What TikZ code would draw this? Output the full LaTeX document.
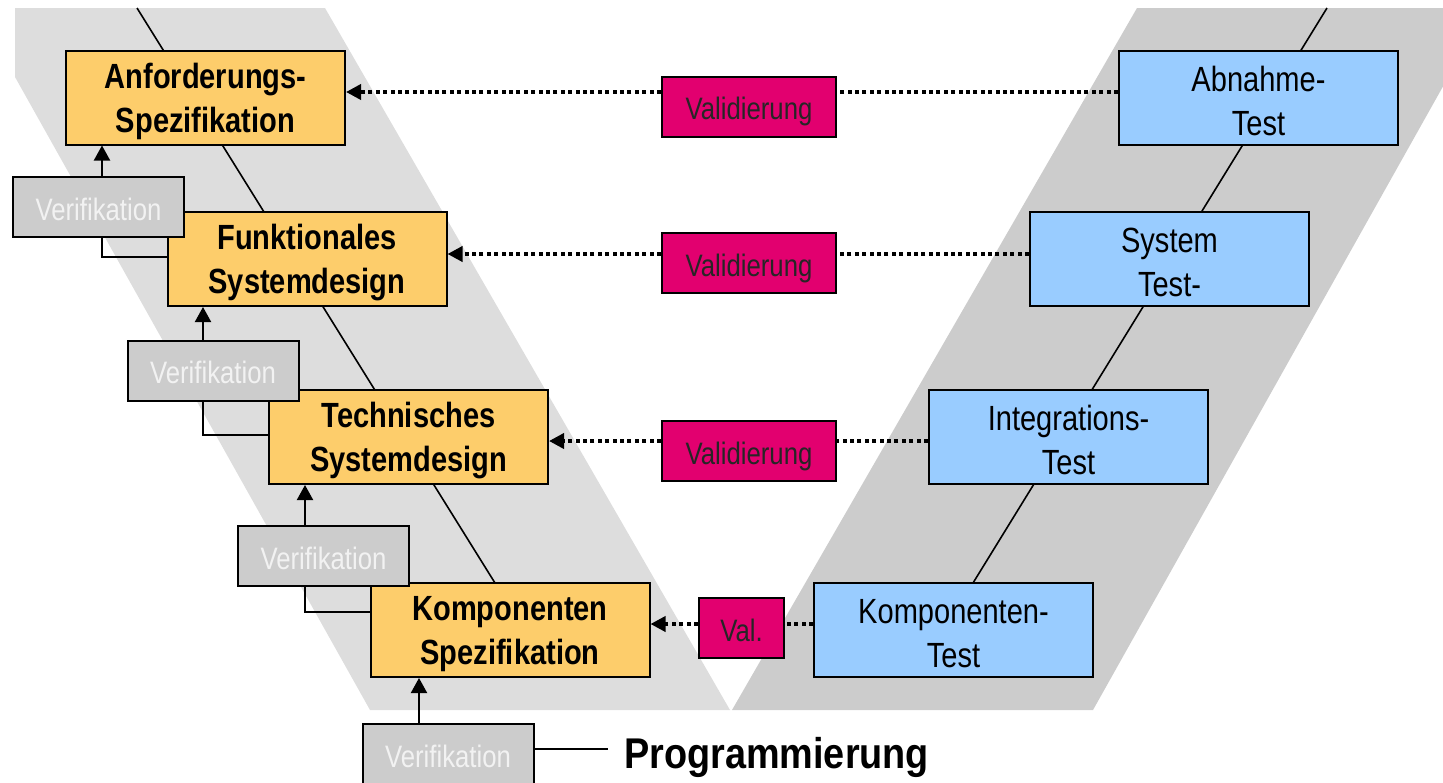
\documentclass[tikz,border=0pt]{standalone}
\usepackage{fontspec}
\setmainfont{Liberation Sans}[FakeStretch=0.83]
\newfontfamily\progfont{Liberation Sans}[FakeStretch=0.88]
\usetikzlibrary{arrows.meta}
\definecolor{bandlight}{HTML}{DDDDDD}
\definecolor{banddark}{HTML}{CCCCCC}
\definecolor{specfill}{HTML}{FDCD6B}
\definecolor{testfill}{HTML}{99CCFF}
\definecolor{verfill}{HTML}{CCCCCC}
\definecolor{vertext}{HTML}{F2F2F2}
\definecolor{valfill}{HTML}{E2006F}
\tikzset{
  specbox/.style={draw, line width=2pt, fill=specfill, inner sep=0pt, align=center,
    minimum width=279pt, minimum height=94pt, text depth=0pt,
    font=\fontsize{35}{44}\selectfont\bfseries},
  testbox/.style={draw, line width=2pt, fill=testfill, inner sep=0pt, align=center,
    minimum width=279pt, minimum height=94pt, text depth=0pt, text height=74pt,
    font=\fontsize{35}{44}\selectfont},
  verbox/.style={draw, line width=2pt, fill=verfill, text=vertext, inner sep=0pt,
    minimum width=171pt, minimum height=60pt, text depth=0pt, text height=26pt,
    font=\fontsize{31}{36}\selectfont},
  valbox/.style={draw, line width=2pt, fill=valfill, text=black!85, inner sep=0pt,
    minimum height=60pt, text depth=0pt, text height=26pt,
    font=\fontsize{31}{36}\selectfont},
  axis/.style={line width=1.6pt},
  uparrow/.style={line width=2pt, -{Triangle[length=15pt,width=16pt]}},
  elbow/.style={line width=1.8pt},
  dotline/.style={line width=3.6pt, dash pattern=on 4pt off 3.4pt, line cap=butt},
  dotarrow/.style={dotline, -{Triangle[length=15pt,width=15pt]}},
}
\begin{document}
\begin{tikzpicture}[x=1pt, y=-1pt]
\useasboundingbox (0,0) rectangle (1443,782);
\clip (0,0) rectangle (1443,782);

% the two slanted bands of the V
\fill[bandlight] (15,8) -- (325,8) -- (730,710) -- (370,710) -- (15,77) -- cycle;
\fill[banddark] (1137,8) -- (1487,8) -- (1093,710) -- (732,710) -- cycle;

% the axis lines of the V
\coordinate (la) at (137,8);
\coordinate (lb) at (495,583);
\coordinate (ra) at (1327,8);
\coordinate (rb) at (973,583);
\draw[axis] (la) -- (lb);
\draw[axis] (ra) -- (rb);

% specification side
\node[specbox] (anf)  at (205.5,97.5) {Anforderungs-\\Spezifikation};
\node[specbox] (funk) at (307,259)    {Funktionales\\Systemdesign};
\node[specbox] (tech) at (408.5,437)  {Technisches\\Systemdesign};
\node[specbox] (komp) at (510,630)    {Komponenten\\Spezifikation};

% test side
\node[testbox] (abn) at (1258.5,98)  {Abnahme-\\Test};
\node[testbox] (sys) at (1169.5,259) {System\\Test-};
\node[testbox] (int) at (1068.5,437) {Integrations-\\Test};
\node[testbox] (kt)  at (953.5,630)  {Komponenten-\\Test};

% verification steps
\node[verbox] (v1) at (98.5,207)  {Verifikation};
\node[verbox] (v2) at (213,370.5) {Verifikation};
\node[verbox] (v3) at (323.5,556) {Verifikation};
\node[verbox] (v4) at (448,754)   {Verifikation};

\coordinate (c1) at (102,257);
\coordinate (c2) at (203,435);
\coordinate (c3) at (305,612);
\coordinate (c4) at (419,0);

\draw[uparrow] (v1.north -| c1) -- (anf.south -| c1);
\draw[uparrow] (v2.north -| c2) -- (funk.south -| c2);
\draw[uparrow] (v3.north -| c3) -- (tech.south -| c3);
\draw[uparrow] (v4.north -| c4) -- (komp.south -| c4);

\draw[elbow] (v1.south -| c1) |- (funk.west |- c1);
\draw[elbow] (v2.south -| c2) |- (tech.west |- c2);
\draw[elbow] (v3.south -| c3) |- (komp.west |- c3);

% programming at the bottom of the V
\node[anchor=base west, inner sep=0pt, font=\progfont\fontsize{43}{48}\selectfont\bfseries]
  (prog) at (624,768) {Programmierung};
\coordinate (pl) at (608,749);
\draw[elbow] (v4.east |- pl) -- (pl);

% validation between the two sides
\node[valbox, minimum width=174pt] (val1) at (749,106.5) {Validierung};
\node[valbox, minimum width=174pt] (val2) at (749,263)   {Validierung};
\node[valbox, minimum width=174pt] (val3) at (749,451)   {Validierung};
\node[valbox, minimum width=85pt]  (val4) at (741.5,628) {Val.};

\coordinate (r1) at (0,92);
\coordinate (r2) at (0,254);
\coordinate (r3) at (0,441);
\coordinate (r4) at (0,624);

\draw[dotline]  (abn.west |- r1) -- (val1.east |- r1);
\draw[dotarrow] (val1.west |- r1) -- (anf.east |- r1);
\draw[dotline]  (sys.west |- r2) -- (val2.east |- r2);
\draw[dotarrow] (val2.west |- r2) -- (funk.east |- r2);
\draw[dotline]  (int.west |- r3) -- (val3.east |- r3);
\draw[dotarrow] (val3.west |- r3) -- (tech.east |- r3);
\draw[dotline]  (kt.west |- r4) -- (val4.east |- r4);
\draw[dotarrow] (val4.west |- r4) -- (komp.east |- r4);
\end{tikzpicture}
\end{document}
